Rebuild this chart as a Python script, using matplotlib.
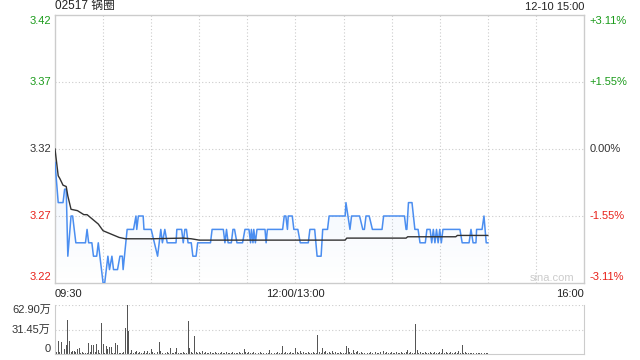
import numpy as np
import matplotlib.pyplot as plt
from matplotlib.patches import Polygon

plt.rcParams['font.family'] = ['Liberation Sans', 'Noto Sans CJK SC', 'DejaVu Sans']

# trading minutes since 09:30 (lunch removed): 150 = 12:00/13:00, 270 = 15:00, 330 = 16:00
price_t = [0, 2, 5, 6, 7, 8, 10, 11, 13, 19, 20, 21, 23, 24, 26, 27, 28, 30, 31, 33,
           34, 35.5, 36.5, 39, 40.5, 42, 42.5, 45, 49, 50.5, 51, 52, 55, 55.5, 60, 62,
           64, 66, 67, 68.5, 70, 75.5, 76, 79, 80, 81, 82, 83, 85, 86, 88, 89, 97, 98,
           105, 106, 107, 108, 110, 111, 112, 113.5, 117, 118.5, 121, 122, 122.5, 123.5,
           124, 125, 126, 131, 131.7, 132.5, 142, 143, 144, 145, 145.5, 148, 149, 151.5,
           153, 158, 159, 162, 163.5, 166, 167, 170, 171, 181, 181.5, 184, 185, 190, 192,
           193, 194, 196, 198, 204, 205, 218, 219, 219.5, 220.5, 222.7, 224.5, 226.5,
           227.7, 231, 232, 234, 235, 236, 237, 238, 239, 240, 241, 242, 252.6, 254,
           258.3, 259.5, 260.8, 262.6, 263, 266.4, 267.6, 269, 270]
price_v = [3.31, 3.28, 3.28, 3.29, 3.29, 3.24, 3.27, 3.27, 3.25, 3.25, 3.26, 3.25, 3.25,
           3.24, 3.24, 3.25, 3.24, 3.22, 3.22, 3.24, 3.23, 3.24, 3.23, 3.23, 3.24, 3.24,
           3.23, 3.26, 3.26, 3.27, 3.26, 3.27, 3.27, 3.26, 3.26, 3.25, 3.24, 3.26, 3.25,
           3.26, 3.25, 3.25, 3.26, 3.26, 3.25, 3.26, 3.26, 3.25, 3.25, 3.24, 3.24, 3.25,
           3.25, 3.26, 3.26, 3.25, 3.26, 3.25, 3.25, 3.26, 3.26, 3.25, 3.25, 3.26, 3.26,
           3.25, 3.26, 3.25, 3.26, 3.25, 3.26, 3.26, 3.25, 3.26, 3.26, 3.27, 3.27, 3.26,
           3.27, 3.27, 3.26, 3.26, 3.25, 3.25, 3.26, 3.26, 3.24, 3.24, 3.26, 3.26, 3.27,
           3.27, 3.28, 3.26, 3.27, 3.27, 3.26, 3.26, 3.27, 3.27, 3.26, 3.26, 3.27, 3.27,
           3.26, 3.26, 3.28, 3.28, 3.26, 3.26, 3.25, 3.25, 3.26, 3.26, 3.25, 3.26, 3.25,
           3.26, 3.25, 3.26, 3.25, 3.26, 3.26, 3.25, 3.25, 3.26, 3.25, 3.25, 3.26, 3.26,
           3.27, 3.25, 3.25]

avg_t = [0, 1, 2, 3, 5, 7, 8, 10, 14, 18, 20, 24, 27, 30, 32, 36, 40, 44, 60, 80, 85,
         90, 140, 181, 182, 219, 220, 250, 251, 270]
avg_v = [3.32, 3.31, 3.30, 3.298, 3.293, 3.292, 3.285, 3.275, 3.274, 3.271, 3.271, 3.267,
         3.264, 3.259, 3.258, 3.256, 3.254, 3.253, 3.253, 3.2535, 3.253, 3.252, 3.252,
         3.252, 3.2535, 3.2535, 3.2545, 3.2545, 3.2555, 3.2555]

# volume per minute, in 万
volume = [
    5, 2, 16.7, 3, 15.5, 3, 7, 12, 44, 16.7,
    2, 4, 4, 2, 6, 7.5, 1, 2, 1, 1,
    1, 14, 2, 11, 11, 2, 13, 5, 1, 40,
    12.6, 1, 10.5, 6, 9, 9, 1, 1, 14, 11,
    1, 1, 1, 2, 34, 62.9, 30, 1, 5, 1,
    2, 4, 1, 3, 1, 1, 4, 1, 4, 1,
    7, 2, 1, 7, 2, 15.5, 4, 1, 1, 1,
    2, 1, 7.5, 1, 1, 2, 7.5, 1, 1, 1,
    2, 1, 1, 42, 8, 2, 1, 23, 2, 1,
    2, 1, 4, 1, 2, 1, 1, 2, 1, 1,
    2, 1, 1, 1, 2, 1, 1, 2, 1, 1,
    1, 2, 1, 1, 1, 2, 1, 1, 6, 3,
    1, 2, 1, 1, 2, 1, 1, 1, 2, 1,
    1, 2, 1, 1, 5, 1, 2, 1, 1, 2,
    1, 1, 10, 1, 2, 1, 1, 2, 1, 1,
    7.5, 2, 1, 4, 1, 2, 1, 1, 2, 1,
    1, 2, 1, 1, 25, 2, 1, 8, 2, 4,
    1, 2, 1, 4, 1, 2, 1, 1, 2, 1,
    1, 1, 10, 8, 2, 1, 5, 1, 2, 4,
    1, 2, 1, 1, 2, 1, 1, 2, 1, 1,
    2, 1, 1, 2, 1, 4, 1, 2, 1, 1,
    2, 1, 1, 2, 1, 1, 2, 1, 1, 2,
    5, 1, 2, 1, 1, 38, 5, 1, 2, 1,
    1, 2, 1, 1, 2, 1, 1, 2, 1, 1,
    2, 1, 6, 1, 2, 1, 1, 2, 1, 1,
    2, 1, 4, 1, 11, 1, 2, 1, 1, 1,
    1, 1, 2, 1, 1, 1, 1, 1, 1, 1,
    1]

price_ticks = [3.42, 3.37, 3.32, 3.27, 3.22]
pct_labels = ['+3.11%', '+1.55%', '0.00%', '-1.55%', '-3.11%']
tick_colors = ['#1a9b1a', '#1a9b1a', '#333333', '#e8211a', '#e8211a']
vol_ticks = [62.90, 31.45, 0]
vol_labels = ['62.90万', '31.45万', '0']

W, H = 640, 360
fig = plt.figure(figsize=(6.4, 3.6), dpi=100)
ax = fig.add_axes([55 / W, 1 - 283 / H, 529 / W, 268 / H])
axv = fig.add_axes([55 / W, 1 - 354 / H, 529 / W, 49 / H])

frame = '#cccccc'
blue = '#4b8ef0'

# price panel
ax.set_xlim(0, 330)
ax.set_ylim(3.22, 3.42)
for s in ax.spines.values():
    s.set_color(frame)
    s.set_linewidth(1)
ax.set_xticks([])
ax.set_yticks([])
for x in range(30, 330, 30):
    ax.axvline(x, color=frame, lw=0.8, ls=(0, (1, 2)), zorder=0)
for y in price_ticks[1:-1]:
    ax.axhline(y, color=frame, lw=0.8, ls=(0, (1, 2)), zorder=0)

# faint gradient fill under the price line
rgba = np.zeros((256, 1, 4))
rgba[..., 0], rgba[..., 1], rgba[..., 2] = 0.30, 0.56, 0.94
rgba[..., 3] = np.linspace(0.09, 0.0, 256).reshape(-1, 1)
im = ax.imshow(rgba, extent=[0, 270, 3.22, 3.31], aspect='auto', zorder=1)
poly = Polygon(list(zip(price_t, price_v)) + [(270, 3.22), (0, 3.22)], closed=True,
               transform=ax.transData, facecolor='none', edgecolor='none')
ax.add_patch(poly)
im.set_clip_path(poly)
ax.set_xlim(0, 330)
ax.set_ylim(3.22, 3.42)

ax.plot(price_t, price_v, color=blue, lw=1.1, zorder=3)
ax.plot(avg_t, avg_v, color='#333333', lw=1, zorder=4)

ax.text(324, 3.2235, 'sina.com', color='#cccccc', fontsize=8, ha='right', va='center')

for i, (p, lab, c) in enumerate(zip(price_ticks, pct_labels, tick_colors)):
    va = 'top' if i == 0 else ('bottom' if i == len(price_ticks) - 1 else 'center')
    off = -1 if i == 0 else (1 if i == len(price_ticks) - 1 else 0)
    ax.annotate('%.2f' % p, xy=(0, p), xycoords=('axes fraction', 'data'),
                xytext=(-3, off), textcoords='offset points', ha='right', va=va,
                color=c, fontsize=8)
    ax.annotate(lab, xy=(1, p), xycoords=('axes fraction', 'data'),
                xytext=(4, off), textcoords='offset points', ha='left', va=va,
                color=c, fontsize=8)

ax.text(0, 1.012, '02517 锅圈', transform=ax.transAxes, ha='left', va='bottom',
        fontsize=8.5, color='#222222')
ax.text(1, 1.012, '12-10 15:00', transform=ax.transAxes, ha='right', va='bottom',
        fontsize=8, color='#222222')

for x, lab, ha in [(0, '09:30', 'left'), (150, '12:00/13:00', 'center'), (330, '16:00', 'right')]:
    ax.annotate(lab, xy=(x, 0), xycoords=('data', 'axes fraction'), xytext=(0, -4),
                textcoords='offset points', ha=ha, va='top', fontsize=8, color='#222222')

# volume panel
axv.bar(np.arange(len(volume)), volume, width=0.6, color='#555555', zorder=2)
axv.set_xlim(0, 330)
axv.set_ylim(0, 62.90)
axv.set_xticks([])
axv.set_yticks([])
for side in ['left', 'right', 'bottom']:
    axv.spines[side].set_color(frame)
axv.spines['top'].set_visible(False)
for y in vol_ticks[:2]:
    axv.axhline(y, color=frame, lw=0.8, ls=(0, (1, 2)), zorder=0)
for i, (v, lab) in enumerate(zip(vol_ticks, vol_labels)):
    va = 'top' if i == 0 else ('bottom' if i == 2 else 'center')
    axv.annotate(lab, xy=(0, v), xycoords=('axes fraction', 'data'), xytext=(-3, 0),
                 textcoords='offset points', ha='right', va=va, fontsize=8, color='#333333')

fig.savefig('out.png', dpi=100)
